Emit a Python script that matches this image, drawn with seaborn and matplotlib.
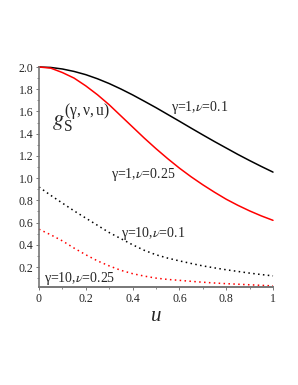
import numpy as np
import pandas as pd
import matplotlib
matplotlib.use("Agg")
import matplotlib.pyplot as plt
import seaborn as sns

u = [0.00, 0.05, 0.10, 0.15, 0.20, 0.25, 0.30, 0.35, 0.40, 0.45, 0.50,
     0.55, 0.60, 0.65, 0.70, 0.75, 0.80, 0.85, 0.90, 0.95, 1.00]
g1_01 = [2.000, 1.996, 1.982, 1.960, 1.931, 1.894, 1.851, 1.802, 1.749, 1.692, 1.634,
         1.573, 1.512, 1.450, 1.389, 1.329, 1.271, 1.213, 1.158, 1.105, 1.054]
g1_025 = [2.00, 1.99, 1.95, 1.90, 1.83, 1.75, 1.66, 1.56, 1.46, 1.36, 1.265,
          1.175, 1.09, 1.012, 0.94, 0.873, 0.81, 0.755, 0.705, 0.66, 0.62]
g10_01 = [0.92, 0.845, 0.775, 0.705, 0.64, 0.575, 0.51, 0.455, 0.40, 0.35, 0.31,
          0.28, 0.255, 0.232, 0.21, 0.192, 0.175, 0.16, 0.145, 0.132, 0.12]
g10_025 = [0.54, 0.49, 0.435, 0.37, 0.31, 0.255, 0.21, 0.17, 0.14, 0.118, 0.10,
           0.088, 0.08, 0.071, 0.063, 0.056, 0.05, 0.045, 0.04, 0.035, 0.03]
series_names = ["γ=1,ν=0.1", "γ=1,ν=0.25", "γ=10,ν=0.1", "γ=10,ν=0.25"]
label_texts = [r"γ=1,$\nu$=0.1", r"γ=1,$\nu$=0.25", r"γ=10,$\nu$=0.1", r"γ=10,$\nu$=0.25"]
xtick_vals = [0, 0.2, 0.4, 0.6, 0.8, 1]
xtick_labels = ["0", "0.2", "0.4", "0.6", "0.8", "1"]
ytick_vals = [0.2, 0.4, 0.6, 0.8, 1.0, 1.2, 1.4, 1.6, 1.8, 2.0]
ytick_labels = ["0.2", "0.4", "0.6", "0.8", "1.0", "1.2", "1.4", "1.6", "1.8", "2.0"]

sns.set_style("ticks")
plt.rcParams['font.family'] = ['Liberation Serif', 'DejaVu Serif']
plt.rcParams['mathtext.fontset'] = 'stix'

df = pd.concat([
    pd.DataFrame({"u": u, "g": vals, "s": name})
    for vals, name in zip([g1_01, g1_025, g10_01, g10_025], series_names)
])

fig = plt.figure(figsize=(2.98, 3.85), dpi=100)
ax = fig.add_axes([39/298, 1-287/385, (273-39)/298, (287-67)/385])

styles = {
    series_names[0]: dict(color="#000000", ls="-"),
    series_names[1]: dict(color="#ff0000", ls="-"),
    series_names[2]: dict(color="#000000", ls=(0, (1, 2.2))),
    series_names[3]: dict(color="#ff0000", ls=(0, (1, 2.2))),
}
for name in series_names:
    sub = df[df["s"] == name]
    sns.lineplot(data=sub, x="u", y="g", ax=ax, color=styles[name]["color"],
                 linestyle=styles[name]["ls"], lw=1.1, clip_on=False, legend=False)

ax.set_xlim(0, 1)
ax.set_ylim(0.02, 2.0)
ax.set_xticks(xtick_vals)
ax.set_xticklabels(xtick_labels)
ax.set_yticks(ytick_vals)
ax.set_yticklabels(ytick_labels)
ax.set_xticks(np.arange(0, 1.01, 0.1), minor=True)
ax.set_yticks(np.arange(0.1, 2.01, 0.1), minor=True)
ax.tick_params(axis='both', which='major', labelsize=8.5, length=2, width=0.7,
               color='#777777', pad=2)
ax.tick_params(axis='both', which='minor', length=1.2, width=0.6, color='#777777')
for side in ['top', 'right']:
    ax.spines[side].set_visible(False)
ax.spines['left'].set_color('#777777')
ax.spines['left'].set_linewidth(1.2)
ax.spines['bottom'].set_color('#777777')
ax.spines['bottom'].set_linewidth(1.4)
ax.set_xlabel("u", fontsize=15, style='italic', labelpad=2)
ax.set_ylabel("")

ax.text(0.056, 1.53, r'$g_{\mathregular{S}}^{\mathregular{(γ,ν,u)}}$', fontsize=16,
        ha='left', va='center')
ax.text(0.688, 1.64, label_texts[0], fontsize=10, ha='center', va='center')
ax.text(0.444, 1.03, label_texts[1], fontsize=10, ha='center', va='center')
ax.text(0.487, 0.50, label_texts[2], fontsize=10, ha='center', va='center')
ax.text(0.175, 0.10, label_texts[3], fontsize=10, ha='center', va='center')

fig.savefig("out.png", dpi=100, facecolor='white')
